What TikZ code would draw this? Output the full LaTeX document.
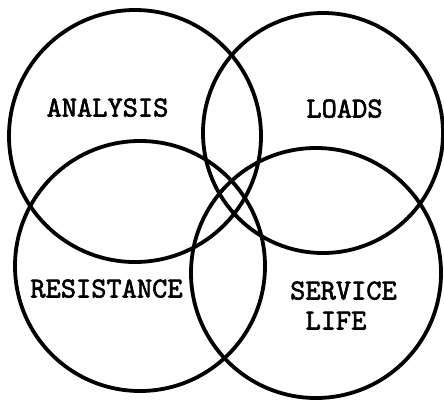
\documentclass[tikz,border=0pt]{standalone}
\usepackage{fontspec}
\newfontfamily\labfont[FakeBold=2]{lmmono10-regular.otf}
\tikzset{
  ring/.style={draw=black, line width=3.8pt, circle, inner sep=0pt, fill=none},
  lbl/.style={font=\labfont\fontsize{29}{32}\selectfont, anchor=base, inner sep=0pt},
}
\begin{document}
\begin{tikzpicture}[x=1pt,y=-1pt]
\useasboundingbox (0,0) rectangle (444,402);
\node[ring, minimum size=252pt] (analysis) at (135,136) {};
\node[ring, minimum size=240pt] (loads) at (323,133) {};
\node[ring, minimum size=250pt] (resistance) at (140,266) {};
\node[ring, minimum size=250pt] (service) at (316,273) {};
\node[lbl] (tA) at (107.5,116.5) {ANALYSIS};
\node[lbl] (tL) at (344.5,117.5) {LOADS};
\node[lbl] (tR) at (106.5,297.5) {RESISTANCE};
\node[lbl] (tS) at (343.5,299.5) {SERVICE};
\node[lbl] (tF) at (336,329.5) {LIFE};
\end{tikzpicture}
\end{document}
